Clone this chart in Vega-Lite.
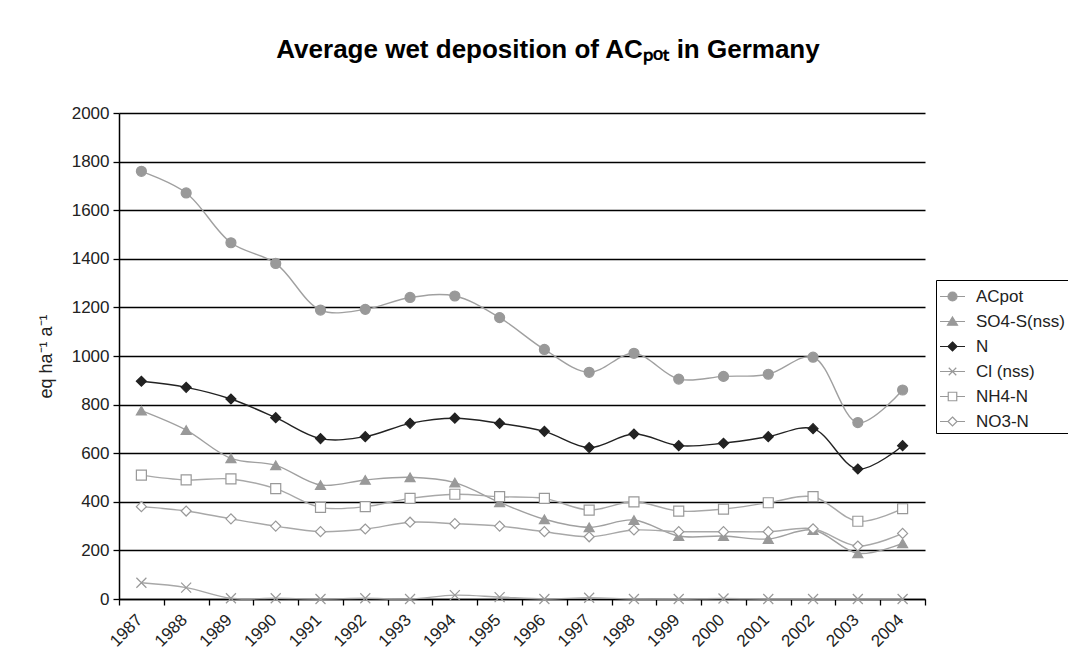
{
  "$schema": "https://vega.github.io/schema/vega-lite/v6.json",
  "width": 806,
  "height": 486,
  "autosize": {"type": "none"},
  "padding": {"left": 119, "top": 113, "right": 143, "bottom": 65},
  "background": "white",
  "config": {
    "font": "Liberation Sans",
    "view": {"stroke": null}
  },
  "title": {
    "text": "Average wet deposition of ACₚₒₜ in Germany",
    "font": "Liberation Sans",
    "fontSize": 26,
    "fontWeight": "bold",
    "color": "#000",
    "anchor": "middle",
    "dx": 26,
    "offset": 41
  },
  "data": {
    "values": [
      {"year": "1987", "series": "ACpot", "value": 1760},
      {"year": "1988", "series": "ACpot", "value": 1671},
      {"year": "1989", "series": "ACpot", "value": 1466},
      {"year": "1990", "series": "ACpot", "value": 1381},
      {"year": "1991", "series": "ACpot", "value": 1189},
      {"year": "1992", "series": "ACpot", "value": 1192},
      {"year": "1993", "series": "ACpot", "value": 1241},
      {"year": "1994", "series": "ACpot", "value": 1247},
      {"year": "1995", "series": "ACpot", "value": 1158},
      {"year": "1996", "series": "ACpot", "value": 1027},
      {"year": "1997", "series": "ACpot", "value": 933},
      {"year": "1998", "series": "ACpot", "value": 1011},
      {"year": "1999", "series": "ACpot", "value": 905},
      {"year": "2000", "series": "ACpot", "value": 916},
      {"year": "2001", "series": "ACpot", "value": 925},
      {"year": "2002", "series": "ACpot", "value": 995},
      {"year": "2003", "series": "ACpot", "value": 726},
      {"year": "2004", "series": "ACpot", "value": 860},
      {"year": "1987", "series": "SO4-S(nss)", "value": 775},
      {"year": "1988", "series": "SO4-S(nss)", "value": 695},
      {"year": "1989", "series": "SO4-S(nss)", "value": 579},
      {"year": "1990", "series": "SO4-S(nss)", "value": 550},
      {"year": "1991", "series": "SO4-S(nss)", "value": 469},
      {"year": "1992", "series": "SO4-S(nss)", "value": 490},
      {"year": "1993", "series": "SO4-S(nss)", "value": 501},
      {"year": "1994", "series": "SO4-S(nss)", "value": 479},
      {"year": "1995", "series": "SO4-S(nss)", "value": 398},
      {"year": "1996", "series": "SO4-S(nss)", "value": 328},
      {"year": "1997", "series": "SO4-S(nss)", "value": 295},
      {"year": "1998", "series": "SO4-S(nss)", "value": 325},
      {"year": "1999", "series": "SO4-S(nss)", "value": 259},
      {"year": "2000", "series": "SO4-S(nss)", "value": 259},
      {"year": "2001", "series": "SO4-S(nss)", "value": 247},
      {"year": "2002", "series": "SO4-S(nss)", "value": 284},
      {"year": "2003", "series": "SO4-S(nss)", "value": 188},
      {"year": "2004", "series": "SO4-S(nss)", "value": 229},
      {"year": "1987", "series": "N", "value": 896},
      {"year": "1988", "series": "N", "value": 871},
      {"year": "1989", "series": "N", "value": 823},
      {"year": "1990", "series": "N", "value": 746},
      {"year": "1991", "series": "N", "value": 660},
      {"year": "1992", "series": "N", "value": 668},
      {"year": "1993", "series": "N", "value": 723},
      {"year": "1994", "series": "N", "value": 744},
      {"year": "1995", "series": "N", "value": 723},
      {"year": "1996", "series": "N", "value": 690},
      {"year": "1997", "series": "N", "value": 623},
      {"year": "1998", "series": "N", "value": 679},
      {"year": "1999", "series": "N", "value": 631},
      {"year": "2000", "series": "N", "value": 641},
      {"year": "2001", "series": "N", "value": 668},
      {"year": "2002", "series": "N", "value": 701},
      {"year": "2003", "series": "N", "value": 535},
      {"year": "2004", "series": "N", "value": 631},
      {"year": "1987", "series": "Cl (nss)", "value": 67},
      {"year": "1988", "series": "Cl (nss)", "value": 47},
      {"year": "1989", "series": "Cl (nss)", "value": 3},
      {"year": "1990", "series": "Cl (nss)", "value": 3},
      {"year": "1991", "series": "Cl (nss)", "value": 0},
      {"year": "1992", "series": "Cl (nss)", "value": 3},
      {"year": "1993", "series": "Cl (nss)", "value": 0},
      {"year": "1994", "series": "Cl (nss)", "value": 16},
      {"year": "1995", "series": "Cl (nss)", "value": 8},
      {"year": "1996", "series": "Cl (nss)", "value": 0},
      {"year": "1997", "series": "Cl (nss)", "value": 5},
      {"year": "1998", "series": "Cl (nss)", "value": 0},
      {"year": "1999", "series": "Cl (nss)", "value": 0},
      {"year": "2000", "series": "Cl (nss)", "value": 2},
      {"year": "2001", "series": "Cl (nss)", "value": 0},
      {"year": "2002", "series": "Cl (nss)", "value": 0},
      {"year": "2003", "series": "Cl (nss)", "value": 0},
      {"year": "2004", "series": "Cl (nss)", "value": 0},
      {"year": "1987", "series": "NH4-N", "value": 510},
      {"year": "1988", "series": "NH4-N", "value": 490},
      {"year": "1989", "series": "NH4-N", "value": 494},
      {"year": "1990", "series": "NH4-N", "value": 454},
      {"year": "1991", "series": "NH4-N", "value": 377},
      {"year": "1992", "series": "NH4-N", "value": 380},
      {"year": "1993", "series": "NH4-N", "value": 414},
      {"year": "1994", "series": "NH4-N", "value": 431},
      {"year": "1995", "series": "NH4-N", "value": 421},
      {"year": "1996", "series": "NH4-N", "value": 414},
      {"year": "1997", "series": "NH4-N", "value": 366},
      {"year": "1998", "series": "NH4-N", "value": 400},
      {"year": "1999", "series": "NH4-N", "value": 362},
      {"year": "2000", "series": "NH4-N", "value": 370},
      {"year": "2001", "series": "NH4-N", "value": 396},
      {"year": "2002", "series": "NH4-N", "value": 421},
      {"year": "2003", "series": "NH4-N", "value": 320},
      {"year": "2004", "series": "NH4-N", "value": 372},
      {"year": "1987", "series": "NO3-N", "value": 380},
      {"year": "1988", "series": "NO3-N", "value": 362},
      {"year": "1989", "series": "NO3-N", "value": 330},
      {"year": "1990", "series": "NO3-N", "value": 300},
      {"year": "1991", "series": "NO3-N", "value": 277},
      {"year": "1992", "series": "NO3-N", "value": 288},
      {"year": "1993", "series": "NO3-N", "value": 316},
      {"year": "1994", "series": "NO3-N", "value": 310},
      {"year": "1995", "series": "NO3-N", "value": 300},
      {"year": "1996", "series": "NO3-N", "value": 277},
      {"year": "1997", "series": "NO3-N", "value": 256},
      {"year": "1998", "series": "NO3-N", "value": 284},
      {"year": "1999", "series": "NO3-N", "value": 277},
      {"year": "2000", "series": "NO3-N", "value": 277},
      {"year": "2001", "series": "NO3-N", "value": 277},
      {"year": "2002", "series": "NO3-N", "value": 289},
      {"year": "2003", "series": "NO3-N", "value": 218},
      {"year": "2004", "series": "NO3-N", "value": 270}
    ]
  },
  "encoding": {
    "x": {
      "field": "year",
      "type": "ordinal",
      "bandPosition": 0.5,
      "scale": {"type": "band", "paddingInner": 0, "paddingOuter": 0},
      "title": null,
      "axis": {
        "labelAngle": -45,
        "labelAlign": "right",
        "labelBaseline": "middle",
        "labelFontSize": 17,
        "labelColor": "#222",
        "labelPadding": 12,
        "labelOffset": -2,
        "labelOverlap": false,
        "tickBand": "extent",
        "tickSize": 6,
        "tickColor": "#000",
        "tickWidth": 1.3,
        "domainColor": "#000",
        "domainWidth": 1.5,
        "grid": false
      }
    },
    "y": {
      "field": "value",
      "type": "quantitative",
      "scale": {"domain": [0, 2000], "nice": false},
      "title": "eq ha⁻¹ a⁻¹",
      "axis": {
        "values": [0, 200, 400, 600, 800, 1000, 1200, 1400, 1600, 1800, 2000],
        "format": "d",
        "labelFontSize": 17,
        "labelColor": "#222",
        "labelPadding": 4,
        "labelFlush": false,
        "tickSize": 6,
        "tickColor": "#000",
        "tickWidth": 1.3,
        "domainColor": "#000",
        "domainWidth": 1.5,
        "grid": true,
        "gridColor": "#000",
        "gridWidth": 1.3,
        "titleFontSize": 18,
        "titleFontWeight": "normal",
        "titleColor": "#222",
        "titlePadding": 16
      }
    }
  },
  "layer": [
    {
      "mark": {"type": "line", "interpolate": "catmull-rom", "strokeWidth": 1.4},
      "encoding": {
        "stroke": {
          "field": "series",
          "type": "nominal",
          "scale": {
            "domain": ["ACpot", "SO4-S(nss)", "N", "Cl (nss)", "NH4-N", "NO3-N"],
            "range": ["#a0a0a0", "#a0a0a0", "#222222", "#a8a8a8", "#a8a8a8", "#a8a8a8"]
          },
          "legend": null
        }
      }
    },
    {
      "mark": {"type": "point", "filled": true, "opacity": 1, "size": 100, "strokeWidth": 1.2},
      "encoding": {
        "shape": {
          "field": "series",
          "type": "nominal",
          "scale": {
            "domain": ["ACpot", "SO4-S(nss)", "N", "Cl (nss)", "NH4-N", "NO3-N"],
            "range": ["circle", "triangle-up", "diamond", "M-1,-1L1,1M-1,1L1,-1", "square", "diamond"]
          },
          "legend": null
        },
        "fill": {
          "field": "series",
          "type": "nominal",
          "scale": {
            "domain": ["ACpot", "SO4-S(nss)", "N", "Cl (nss)", "NH4-N", "NO3-N"],
            "range": ["#999999", "#999999", "#222222", "#999999", "#ffffff", "#ffffff"]
          },
          "legend": null
        },
        "stroke": {
          "field": "series",
          "type": "nominal",
          "scale": {
            "domain": ["ACpot", "SO4-S(nss)", "N", "Cl (nss)", "NH4-N", "NO3-N"],
            "range": ["#999999", "#999999", "#222222", "#999999", "#999999", "#999999"]
          },
          "legend": null
        }
      }
    },
    {
      "transform": [{"filter": "false"}],
      "mark": {"type": "point", "filled": true, "opacity": 1, "size": 625, "strokeWidth": 1.2},
      "encoding": {
        "shape": {
          "field": "series",
          "type": "nominal",
          "scale": {
            "domain": ["ACpot", "SO4-S(nss)", "N", "Cl (nss)", "NH4-N", "NO3-N"],
            "range": [
              "M-1,0H1M-0.36,0A0.36,0.36,0,1,0,0.36,0A0.36,0.36,0,1,0,-0.36,0Z",
              "M-1,0H1M0,-0.36L0.4,0.3L-0.4,0.3Z",
              "M-1,0H1M0,-0.36L0.36,0L0,0.36L-0.36,0Z",
              "M-1,0H1M-0.3,-0.3L0.3,0.3M-0.3,0.3L0.3,-0.3",
              "M-1,0H-0.34M0.34,0H1M-0.34,-0.34H0.34V0.34H-0.34Z",
              "M-1,0H-0.36M0.36,0H1M0,-0.36L0.36,0L0,0.36L-0.36,0Z"
            ]
          },
          "legend": {
            "orient": "none",
            "legendX": 817,
            "legendY": 167,
            "title": null,
            "symbolSize": 625,
            "symbolStrokeWidth": 1.2,
            "labelFontSize": 17,
            "labelColor": "#222",
            "labelOffset": 10,
            "strokeColor": "#000",
            "fillColor": "#ffffff",
            "padding": 3,
            "rowPadding": 3
          }
        },
        "fill": {
          "field": "series",
          "type": "nominal",
          "scale": {
            "domain": ["ACpot", "SO4-S(nss)", "N", "Cl (nss)", "NH4-N", "NO3-N"],
            "range": ["#999999", "#999999", "#222222", "#999999", "#ffffff", "#ffffff"]
          },
          "legend": {
            "orient": "none",
            "legendX": 817,
            "legendY": 167,
            "title": null,
            "symbolSize": 625,
            "symbolStrokeWidth": 1.2,
            "labelFontSize": 17,
            "labelColor": "#222",
            "labelOffset": 10,
            "strokeColor": "#000",
            "fillColor": "#ffffff",
            "padding": 3,
            "rowPadding": 3
          }
        },
        "stroke": {
          "field": "series",
          "type": "nominal",
          "scale": {
            "domain": ["ACpot", "SO4-S(nss)", "N", "Cl (nss)", "NH4-N", "NO3-N"],
            "range": ["#999999", "#999999", "#222222", "#999999", "#999999", "#999999"]
          },
          "legend": {
            "orient": "none",
            "legendX": 817,
            "legendY": 167,
            "title": null,
            "symbolSize": 625,
            "symbolStrokeWidth": 1.2,
            "labelFontSize": 17,
            "labelColor": "#222",
            "labelOffset": 10,
            "strokeColor": "#000",
            "fillColor": "#ffffff",
            "padding": 3,
            "rowPadding": 3
          }
        }
      }
    }
  ],
  "resolve": {"scale": {"shape": "independent", "fill": "independent", "stroke": "independent"}}
}
